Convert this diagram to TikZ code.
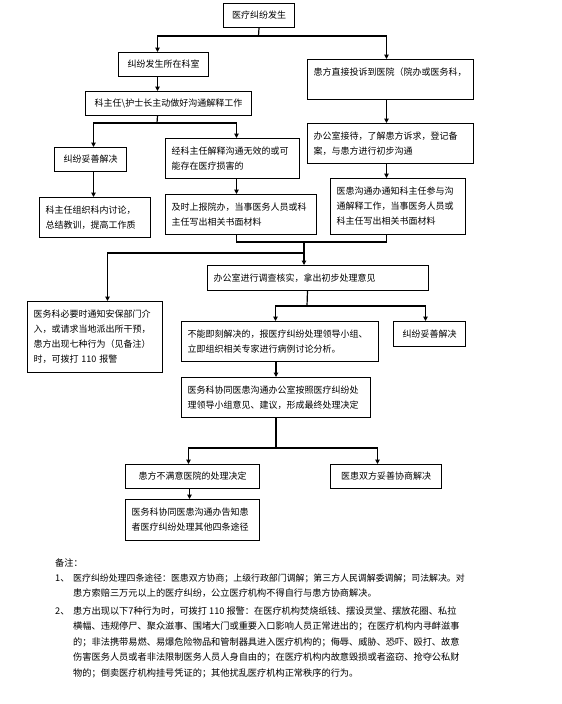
\documentclass[tikz,border=0pt]{standalone}
\usepackage{fontspec}
\setmainfont{Noto Sans CJK SC}
\usetikzlibrary{arrows.meta}
\begin{document}
\begin{tikzpicture}[x=1pt,y=-1pt,
  bx/.style={draw, line width=1pt, anchor=north west, inner xsep=6pt, inner ysep=2pt, font=\fontsize{9}{15}\selectfont},
  ml/.style={bx, align=left},
  ln/.style={line width=1.2pt},
  arr/.style={line width=1.2pt, -{Triangle[length=4.5pt,width=4.5pt]}},
  nt/.style={anchor=west, inner sep=0pt, font=\fontsize{9.2}{15}\selectfont}]
\useasboundingbox (0,0) rectangle (562,704);
% boxes
\node[bx, minimum width=71pt, minimum height=24pt] (n0) at (223,3) {医疗纠纷发生};
\node[bx, minimum width=90pt, minimum height=24pt] (n1) at (118,52) {纠纷发生所在科室};
\node[ml, minimum width=166pt, minimum height=40pt, text width=154pt] (n2) at (307,59) {患方直接投诉到医院（院办或医务科，\\ \mbox{}};
\node[bx, minimum width=166pt, minimum height=24pt] (n3) at (85,91) {科主任\textbackslash 护士长主动做好沟通解释工作};
\node[ml, minimum width=166pt, minimum height=40pt, text width=154pt] (n4) at (307,123) {办公室接待，了解患方诉求，登记备\\案，与患方进行初步沟通};
\node[bx, minimum width=72pt, minimum height=24pt] (n5) at (54,147) {纠纷妥善解决};
\node[ml, minimum width=134pt, minimum height=40pt, text width=122pt] (n6) at (165,138) {经科主任解释沟通无效的或可\\能存在医疗损害的};
\node[ml, minimum width=111pt, minimum height=40pt, text width=99pt] (n7) at (39,197) {科主任组织科内讨论，\\总结教训，提高工作质};
\node[ml, minimum width=151pt, minimum height=40pt, text width=139pt] (n8) at (165,194) {及时上报院办，当事医务人员或科\\主任写出相关书面材料};
\node[ml, minimum width=135pt, minimum height=56pt, text width=123pt] (n9) at (330,178) {医患沟通办通知科主任参与沟\\通解释工作，当事医务人员或\\科主任写出相关书面材料};
\node[ml, minimum width=221pt, minimum height=25pt, text width=209pt] (n10) at (207,265) {办公室进行调查核实，拿出初步处理意见};
\node[ml, minimum width=135pt, minimum height=71pt, text width=123pt] (n11) at (27,301) {医务科必要时通知安保部门介\\入，或请求当地派出所干预，\\患方出现七种行为（见备注）\\时，可拨打 110 报警};
\node[ml, minimum width=197pt, minimum height=40pt, text width=185pt, inner xsep=5pt] (n12) at (181,321) {不能即刻解决的，报医疗纠纷处理领导小组、\\立即组织相关专家进行病例讨论分析。};
\node[bx, minimum width=72pt, minimum height=25pt] (n13) at (393,321) {纠纷妥善解决};
\node[ml, minimum width=189pt, minimum height=40pt, text width=177pt] (n14) at (181,377) {医务科协同医患沟通办公室按照医疗纠纷处\\理领导小组意见、建议，形成最终处理决定};
\node[bx, minimum width=134pt, minimum height=24pt] (n15) at (125,464) {患方不满意医院的处理决定};
\node[bx, minimum width=111pt, minimum height=24pt] (n16) at (330,464) {医患双方妥善协商解决};
\node[ml, minimum width=134pt, minimum height=41pt, text width=122pt] (n17) at (125,499) {医务科协同医患沟通办告知患\\者医疗纠纷处理其他四条途径};
% connectors
\coordinate (j1) at (258.5,36);
\draw[ln] (n0.south) -- (j1);
\draw[arr] (j1) -| ([xshift=-6pt]n1.north);
\draw[arr] (j1) -| ([xshift=-4pt]n2.north);
\draw[arr] ([xshift=-6pt]n1.south) -- ([xshift=-6pt]n1.south |- n3.north);
\coordinate (j2) at (157,123);
\draw[ln] ([xshift=-11pt]n3.south) -- (j2);
\draw[arr] (j2) -| ([xshift=3pt]n5.north);
\draw[arr] (j2) -| ([xshift=4pt]n6.north);
\draw[arr] ([xshift=-4pt]n2.south) -- ([xshift=-4pt]n2.south |- n4.north);
\draw[arr] ([xshift=3pt]n5.south) -- ([xshift=3pt]n5.south |- n7.north);
\draw[arr] ([xshift=4pt]n6.south) -- ([xshift=4pt]n6.south |- n8.north);
\draw[arr] ([xshift=-4pt]n4.south) -- ([xshift=-4pt]n4.south |- n9.north);
\coordinate (j3) at (304,242);
\coordinate (j4) at (304,253);
\draw[ln] ([xshift=-4.5pt]n8.south) |- ([xshift=-11.5pt]n9.south |- j3) -- ([xshift=-11.5pt]n9.south);
\draw[ln] (j3) -- (j4);
\draw[arr] (j4) -- (j4 |- n10.north);
\draw[arr] (j4) -| ([xshift=12.5pt]n11.north);
\coordinate (j5) at (307,306);
\draw[ln] ([xshift=-10.5pt]n10.south) -- (j5);
\draw[arr] (j5) -| ([xshift=-4.5pt]n12.north);
\draw[arr] (j5) -| ([xshift=-4pt]n13.north);
\draw[arr] (n14.north |- n12.south) -- (n14.north);
\coordinate (j6) at (276,448);
\draw[ln] (n14.south) -- (j6);
\draw[arr] (j6) -| ([xshift=-4pt]n15.north);
\draw[arr] (j6) -| ([xshift=-8.5pt]n16.north);
\draw[arr] ([xshift=-3pt]n15.south) -- ([xshift=-3pt]n15.south |- n17.north);
% notes
\node[nt] (r0) at (55,563) {备注：};
\node[nt] (r1) at (55,578) {1、};
\node[nt, font=\fontsize{8.9}{15}\selectfont] (r1a) at (73,578) {医疗纠纷处理四条途径：医患双方协商；上级行政部门调解；第三方人民调解委调解；司法解决。对};
\node[nt] (r1b) at (73,593) {患方索赔三万元以上的医疗纠纷，公立医疗机构不得自行与患方协商解决。};
\node[nt] (r2) at (55,611) {2、};
\node[nt] (r2a) at (73,611) {患方出现以下7种行为时，可拨打 110 报警：在医疗机构焚烧纸钱、摆设灵堂、摆放花圈、私拉};
\node[nt] (r2b) at (73,626) {横幅、违规停尸、聚众滋事、围堵大门或重要入口影响人员正常进出的；在医疗机构内寻衅滋事};
\node[nt] (r2c) at (73,642) {的；非法携带易燃、易爆危险物品和管制器具进入医疗机构的；侮辱、威胁、恐吓、殴打、故意};
\node[nt] (r2d) at (73,657) {伤害医务人员或者非法限制医务人员人身自由的；在医疗机构内故意毁损或者盗窃、抢夺公私财};
\node[nt] (r2e) at (73,673) {物的；倒卖医疗机构挂号凭证的；其他扰乱医疗机构正常秩序的行为。};
\end{tikzpicture}
\end{document}
